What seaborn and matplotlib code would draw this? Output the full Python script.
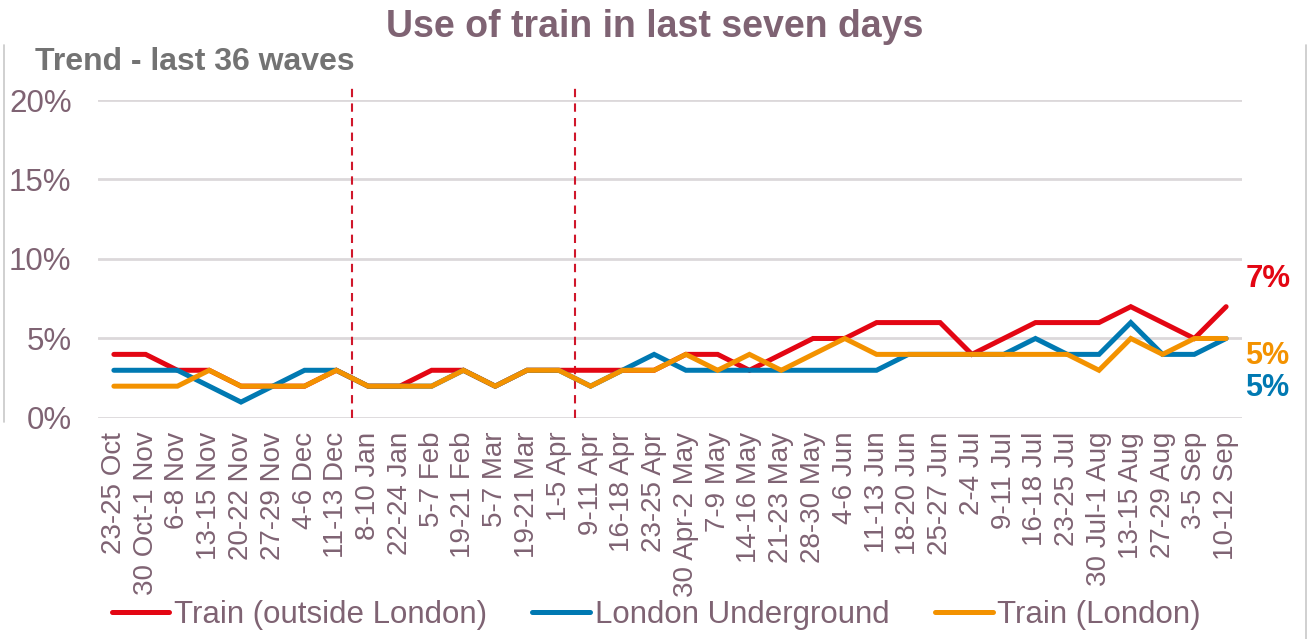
import matplotlib
matplotlib.use('Agg')
import matplotlib.pyplot as plt
import seaborn as sns
import pandas as pd
from matplotlib.lines import Line2D

waves = ['23-25 Oct', '30 Oct-1 Nov', '6-8 Nov', '13-15 Nov', '20-22 Nov', '27-29 Nov',
         '4-6 Dec', '11-13 Dec', '8-10 Jan', '22-24 Jan', '5-7 Feb', '19-21 Feb',
         '5-7 Mar', '19-21 Mar', '1-5 Apr', '9-11 Apr', '16-18 Apr', '23-25 Apr',
         '30 Apr-2 May', '7-9 May', '14-16 May', '21-23 May', '28-30 May', '4-6 Jun',
         '11-13 Jun', '18-20 Jun', '25-27 Jun', '2-4 Jul', '9-11 Jul', '16-18 Jul',
         '23-25 Jul', '30 Jul-1 Aug', '13-15 Aug', '27-29 Aug', '3-5 Sep', '10-12 Sep']
outside_london = [4, 4, 3, 3, 2, 2, 2, 3, 2, 2, 3, 3, 2, 3, 3, 3, 3, 3,
                  4, 4, 3, 4, 5, 5, 6, 6, 6, 4, 5, 6, 6, 6, 7, 6, 5, 7]
underground = [3, 3, 3, 2, 1, 2, 3, 3, 2, 2, 2, 3, 2, 3, 3, 2, 3, 4,
               3, 3, 3, 3, 3, 3, 3, 4, 4, 4, 4, 5, 4, 4, 6, 4, 4, 5]
train_london = [2, 2, 2, 3, 2, 2, 2, 3, 2, 2, 2, 3, 2, 3, 3, 2, 3, 3,
                4, 3, 4, 3, 4, 5, 4, 4, 4, 4, 4, 4, 4, 3, 5, 4, 5, 5]
series_names = ['Train (outside London)', 'London Underground', 'Train (London)']
# dashed breaks sit just after these waves
break_after = ['11-13 Dec', '1-5 Apr']

colors = ['#e30613', '#0079b2', '#f39200']
mauve = '#7f6373'

rows = []
for name, vals in zip(series_names, [outside_london, underground, train_london]):
    for i, v in enumerate(vals):
        rows.append({'pos': i, 'wave': waves[i], 'series': name, 'value': v / 100})
df = pd.DataFrame(rows)

sns.set_style('white')
plt.rcParams['font.family'] = ['Liberation Sans', 'DejaVu Sans']

fig = plt.figure(figsize=(13.1, 6.39), dpi=100)
ax = fig.add_axes([0.0748, 0.3459, 0.8733, 0.4976])

sns.lineplot(data=df, x='pos', y='value', hue='series', hue_order=series_names,
             palette=colors, linewidth=3.6, sort=False, legend=False, ax=ax,
             solid_capstyle='round', solid_joinstyle='miter')

ax.set_xlim(-0.5, len(waves) - 0.5)
ax.set_ylim(0, 0.2)
ax.set_yticks([0, 0.05, 0.10, 0.15, 0.20])
ax.set_yticklabels(['0%', '5%', '10%', '15%', '20%'], fontsize=22.5, color=mauve)
ax.set_xticks(range(len(waves)))
ax.set_xticklabels(waves, rotation=90, fontsize=20, color=mauve)
ax.tick_params(axis='y', length=0, pad=19)
ax.tick_params(axis='x', length=0, pad=10)
ax.set_xlabel('')
ax.set_ylabel('')
ax.yaxis.grid(True, color='#dcd8da', linewidth=2)
ax.set_axisbelow(True)
for s in ax.spines.values():
    s.set_visible(False)

for w in break_after:
    xb = waves.index(w) + 0.5
    ax.vlines(xb, 0, 0.208, colors='#d0172b', linestyles=(0, (4, 3)),
              linewidth=1.5, clip_on=False, zorder=1)

# end-of-series labels
last = len(waves) - 1
ax.text(last + 0.6, 0.0874, f'{outside_london[last]}%', color=colors[0], fontsize=22.5,
        fontweight='bold', va='center', ha='left')
ax.text(last + 0.6, 0.0392, f'{train_london[last]}%', color=colors[2], fontsize=22,
        fontweight='bold', va='center', ha='left')
ax.text(last + 0.6, 0.0188, f'{underground[last]}%', color=colors[1], fontsize=22,
        fontweight='bold', va='center', ha='left')

fig.text(0.5, 0.958, 'Use of train in last seven days', ha='center', va='center',
         fontsize=27, fontweight='bold', color=mauve)
fig.text(0.027, 0.903, 'Trend - last 36 waves', ha='left', va='center',
         fontsize=23, fontweight='bold', color='#737373')

handles = [Line2D([], [], color=c, linewidth=3.6) for c in colors]
fig.legend(handles, series_names, loc='center', bbox_to_anchor=(0.501, 0.038), ncol=3,
           frameon=False, fontsize=22.5, handlelength=1.85, handletextpad=0.15,
           columnspacing=1.45, labelcolor=mauve)

# frame lines of the picture box
fig.add_artist(Line2D([0.003, 0.003], [0.34, 0.93], color='#c8c8c8', linewidth=1.2))
fig.add_artist(Line2D([0.997, 0.997], [0.0, 0.93], color='#c8c8c8', linewidth=1.2))

fig.savefig('out.png', dpi=100)
